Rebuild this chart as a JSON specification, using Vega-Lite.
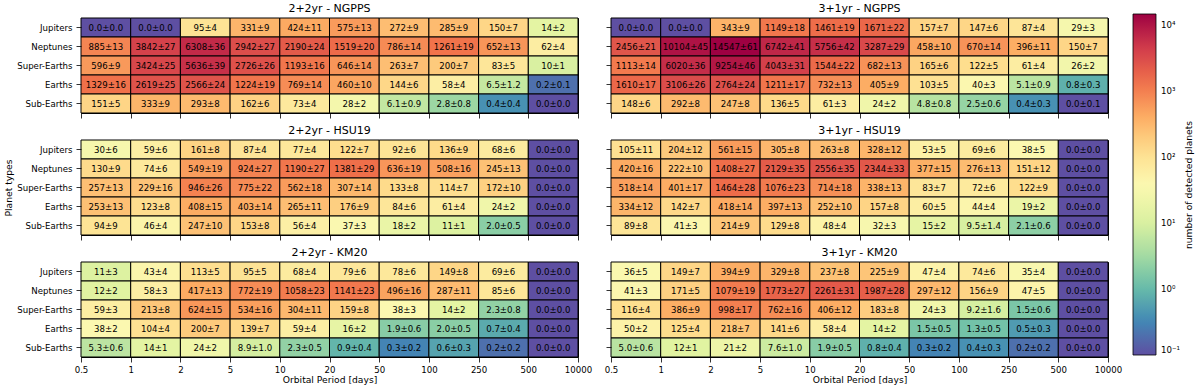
{
"$schema": "https://vega.github.io/schema/vega-lite/v6.json",
"padding": {"left": 4, "top": 2, "right": 0, "bottom": 0},
"data": {"values": [
{"s":"2+2yr","m":"NGPPS","p":"Jupiters","b":0,"v":0,"e":0},
{"s":"2+2yr","m":"NGPPS","p":"Jupiters","b":1,"v":0,"e":0},
{"s":"2+2yr","m":"NGPPS","p":"Jupiters","b":2,"v":95,"e":4},
{"s":"2+2yr","m":"NGPPS","p":"Jupiters","b":3,"v":331,"e":9},
{"s":"2+2yr","m":"NGPPS","p":"Jupiters","b":4,"v":424,"e":11},
{"s":"2+2yr","m":"NGPPS","p":"Jupiters","b":5,"v":575,"e":13},
{"s":"2+2yr","m":"NGPPS","p":"Jupiters","b":6,"v":272,"e":9},
{"s":"2+2yr","m":"NGPPS","p":"Jupiters","b":7,"v":285,"e":9},
{"s":"2+2yr","m":"NGPPS","p":"Jupiters","b":8,"v":150,"e":7},
{"s":"2+2yr","m":"NGPPS","p":"Jupiters","b":9,"v":14,"e":2},
{"s":"2+2yr","m":"NGPPS","p":"Neptunes","b":0,"v":885,"e":13},
{"s":"2+2yr","m":"NGPPS","p":"Neptunes","b":1,"v":3842,"e":27},
{"s":"2+2yr","m":"NGPPS","p":"Neptunes","b":2,"v":6308,"e":36},
{"s":"2+2yr","m":"NGPPS","p":"Neptunes","b":3,"v":2942,"e":27},
{"s":"2+2yr","m":"NGPPS","p":"Neptunes","b":4,"v":2190,"e":24},
{"s":"2+2yr","m":"NGPPS","p":"Neptunes","b":5,"v":1519,"e":20},
{"s":"2+2yr","m":"NGPPS","p":"Neptunes","b":6,"v":786,"e":14},
{"s":"2+2yr","m":"NGPPS","p":"Neptunes","b":7,"v":1261,"e":19},
{"s":"2+2yr","m":"NGPPS","p":"Neptunes","b":8,"v":652,"e":13},
{"s":"2+2yr","m":"NGPPS","p":"Neptunes","b":9,"v":62,"e":4},
{"s":"2+2yr","m":"NGPPS","p":"Super-Earths","b":0,"v":596,"e":9},
{"s":"2+2yr","m":"NGPPS","p":"Super-Earths","b":1,"v":3424,"e":25},
{"s":"2+2yr","m":"NGPPS","p":"Super-Earths","b":2,"v":5636,"e":39},
{"s":"2+2yr","m":"NGPPS","p":"Super-Earths","b":3,"v":2726,"e":26},
{"s":"2+2yr","m":"NGPPS","p":"Super-Earths","b":4,"v":1193,"e":16},
{"s":"2+2yr","m":"NGPPS","p":"Super-Earths","b":5,"v":646,"e":14},
{"s":"2+2yr","m":"NGPPS","p":"Super-Earths","b":6,"v":263,"e":7},
{"s":"2+2yr","m":"NGPPS","p":"Super-Earths","b":7,"v":200,"e":7},
{"s":"2+2yr","m":"NGPPS","p":"Super-Earths","b":8,"v":83,"e":5},
{"s":"2+2yr","m":"NGPPS","p":"Super-Earths","b":9,"v":10,"e":1},
{"s":"2+2yr","m":"NGPPS","p":"Earths","b":0,"v":1329,"e":16},
{"s":"2+2yr","m":"NGPPS","p":"Earths","b":1,"v":2619,"e":25},
{"s":"2+2yr","m":"NGPPS","p":"Earths","b":2,"v":2566,"e":24},
{"s":"2+2yr","m":"NGPPS","p":"Earths","b":3,"v":1224,"e":19},
{"s":"2+2yr","m":"NGPPS","p":"Earths","b":4,"v":769,"e":14},
{"s":"2+2yr","m":"NGPPS","p":"Earths","b":5,"v":460,"e":10},
{"s":"2+2yr","m":"NGPPS","p":"Earths","b":6,"v":144,"e":6},
{"s":"2+2yr","m":"NGPPS","p":"Earths","b":7,"v":58,"e":4},
{"s":"2+2yr","m":"NGPPS","p":"Earths","b":8,"v":6.5,"e":1.2},
{"s":"2+2yr","m":"NGPPS","p":"Earths","b":9,"v":0.2,"e":0.1},
{"s":"2+2yr","m":"NGPPS","p":"Sub-Earths","b":0,"v":151,"e":5},
{"s":"2+2yr","m":"NGPPS","p":"Sub-Earths","b":1,"v":333,"e":9},
{"s":"2+2yr","m":"NGPPS","p":"Sub-Earths","b":2,"v":293,"e":8},
{"s":"2+2yr","m":"NGPPS","p":"Sub-Earths","b":3,"v":162,"e":6},
{"s":"2+2yr","m":"NGPPS","p":"Sub-Earths","b":4,"v":73,"e":4},
{"s":"2+2yr","m":"NGPPS","p":"Sub-Earths","b":5,"v":28,"e":2},
{"s":"2+2yr","m":"NGPPS","p":"Sub-Earths","b":6,"v":6.1,"e":0.9},
{"s":"2+2yr","m":"NGPPS","p":"Sub-Earths","b":7,"v":2.8,"e":0.8},
{"s":"2+2yr","m":"NGPPS","p":"Sub-Earths","b":8,"v":0.4,"e":0.4},
{"s":"2+2yr","m":"NGPPS","p":"Sub-Earths","b":9,"v":0,"e":0},
{"s":"3+1yr","m":"NGPPS","p":"Jupiters","b":0,"v":0,"e":0},
{"s":"3+1yr","m":"NGPPS","p":"Jupiters","b":1,"v":0,"e":0},
{"s":"3+1yr","m":"NGPPS","p":"Jupiters","b":2,"v":343,"e":9},
{"s":"3+1yr","m":"NGPPS","p":"Jupiters","b":3,"v":1149,"e":18},
{"s":"3+1yr","m":"NGPPS","p":"Jupiters","b":4,"v":1461,"e":19},
{"s":"3+1yr","m":"NGPPS","p":"Jupiters","b":5,"v":1671,"e":22},
{"s":"3+1yr","m":"NGPPS","p":"Jupiters","b":6,"v":157,"e":7},
{"s":"3+1yr","m":"NGPPS","p":"Jupiters","b":7,"v":147,"e":6},
{"s":"3+1yr","m":"NGPPS","p":"Jupiters","b":8,"v":87,"e":4},
{"s":"3+1yr","m":"NGPPS","p":"Jupiters","b":9,"v":29,"e":3},
{"s":"3+1yr","m":"NGPPS","p":"Neptunes","b":0,"v":2456,"e":21},
{"s":"3+1yr","m":"NGPPS","p":"Neptunes","b":1,"v":10104,"e":45},
{"s":"3+1yr","m":"NGPPS","p":"Neptunes","b":2,"v":14547,"e":61},
{"s":"3+1yr","m":"NGPPS","p":"Neptunes","b":3,"v":6742,"e":41},
{"s":"3+1yr","m":"NGPPS","p":"Neptunes","b":4,"v":5756,"e":42},
{"s":"3+1yr","m":"NGPPS","p":"Neptunes","b":5,"v":3287,"e":29},
{"s":"3+1yr","m":"NGPPS","p":"Neptunes","b":6,"v":458,"e":10},
{"s":"3+1yr","m":"NGPPS","p":"Neptunes","b":7,"v":670,"e":14},
{"s":"3+1yr","m":"NGPPS","p":"Neptunes","b":8,"v":396,"e":11},
{"s":"3+1yr","m":"NGPPS","p":"Neptunes","b":9,"v":150,"e":7},
{"s":"3+1yr","m":"NGPPS","p":"Super-Earths","b":0,"v":1113,"e":14},
{"s":"3+1yr","m":"NGPPS","p":"Super-Earths","b":1,"v":6020,"e":36},
{"s":"3+1yr","m":"NGPPS","p":"Super-Earths","b":2,"v":9254,"e":46},
{"s":"3+1yr","m":"NGPPS","p":"Super-Earths","b":3,"v":4043,"e":31},
{"s":"3+1yr","m":"NGPPS","p":"Super-Earths","b":4,"v":1544,"e":22},
{"s":"3+1yr","m":"NGPPS","p":"Super-Earths","b":5,"v":682,"e":13},
{"s":"3+1yr","m":"NGPPS","p":"Super-Earths","b":6,"v":165,"e":6},
{"s":"3+1yr","m":"NGPPS","p":"Super-Earths","b":7,"v":122,"e":5},
{"s":"3+1yr","m":"NGPPS","p":"Super-Earths","b":8,"v":61,"e":4},
{"s":"3+1yr","m":"NGPPS","p":"Super-Earths","b":9,"v":26,"e":2},
{"s":"3+1yr","m":"NGPPS","p":"Earths","b":0,"v":1610,"e":17},
{"s":"3+1yr","m":"NGPPS","p":"Earths","b":1,"v":3106,"e":26},
{"s":"3+1yr","m":"NGPPS","p":"Earths","b":2,"v":2764,"e":24},
{"s":"3+1yr","m":"NGPPS","p":"Earths","b":3,"v":1211,"e":17},
{"s":"3+1yr","m":"NGPPS","p":"Earths","b":4,"v":732,"e":13},
{"s":"3+1yr","m":"NGPPS","p":"Earths","b":5,"v":405,"e":9},
{"s":"3+1yr","m":"NGPPS","p":"Earths","b":6,"v":103,"e":5},
{"s":"3+1yr","m":"NGPPS","p":"Earths","b":7,"v":40,"e":3},
{"s":"3+1yr","m":"NGPPS","p":"Earths","b":8,"v":5.1,"e":0.9},
{"s":"3+1yr","m":"NGPPS","p":"Earths","b":9,"v":0.8,"e":0.3},
{"s":"3+1yr","m":"NGPPS","p":"Sub-Earths","b":0,"v":148,"e":6},
{"s":"3+1yr","m":"NGPPS","p":"Sub-Earths","b":1,"v":292,"e":8},
{"s":"3+1yr","m":"NGPPS","p":"Sub-Earths","b":2,"v":247,"e":8},
{"s":"3+1yr","m":"NGPPS","p":"Sub-Earths","b":3,"v":136,"e":5},
{"s":"3+1yr","m":"NGPPS","p":"Sub-Earths","b":4,"v":61,"e":3},
{"s":"3+1yr","m":"NGPPS","p":"Sub-Earths","b":5,"v":24,"e":2},
{"s":"3+1yr","m":"NGPPS","p":"Sub-Earths","b":6,"v":4.8,"e":0.8},
{"s":"3+1yr","m":"NGPPS","p":"Sub-Earths","b":7,"v":2.5,"e":0.6},
{"s":"3+1yr","m":"NGPPS","p":"Sub-Earths","b":8,"v":0.4,"e":0.3},
{"s":"3+1yr","m":"NGPPS","p":"Sub-Earths","b":9,"v":0,"e":0.1},
{"s":"2+2yr","m":"HSU19","p":"Jupiters","b":0,"v":30,"e":6},
{"s":"2+2yr","m":"HSU19","p":"Jupiters","b":1,"v":59,"e":6},
{"s":"2+2yr","m":"HSU19","p":"Jupiters","b":2,"v":161,"e":8},
{"s":"2+2yr","m":"HSU19","p":"Jupiters","b":3,"v":87,"e":4},
{"s":"2+2yr","m":"HSU19","p":"Jupiters","b":4,"v":77,"e":4},
{"s":"2+2yr","m":"HSU19","p":"Jupiters","b":5,"v":122,"e":7},
{"s":"2+2yr","m":"HSU19","p":"Jupiters","b":6,"v":92,"e":6},
{"s":"2+2yr","m":"HSU19","p":"Jupiters","b":7,"v":136,"e":9},
{"s":"2+2yr","m":"HSU19","p":"Jupiters","b":8,"v":68,"e":6},
{"s":"2+2yr","m":"HSU19","p":"Jupiters","b":9,"v":0,"e":0},
{"s":"2+2yr","m":"HSU19","p":"Neptunes","b":0,"v":130,"e":9},
{"s":"2+2yr","m":"HSU19","p":"Neptunes","b":1,"v":74,"e":6},
{"s":"2+2yr","m":"HSU19","p":"Neptunes","b":2,"v":549,"e":19},
{"s":"2+2yr","m":"HSU19","p":"Neptunes","b":3,"v":924,"e":27},
{"s":"2+2yr","m":"HSU19","p":"Neptunes","b":4,"v":1190,"e":27},
{"s":"2+2yr","m":"HSU19","p":"Neptunes","b":5,"v":1381,"e":29},
{"s":"2+2yr","m":"HSU19","p":"Neptunes","b":6,"v":636,"e":19},
{"s":"2+2yr","m":"HSU19","p":"Neptunes","b":7,"v":508,"e":16},
{"s":"2+2yr","m":"HSU19","p":"Neptunes","b":8,"v":245,"e":13},
{"s":"2+2yr","m":"HSU19","p":"Neptunes","b":9,"v":0,"e":0},
{"s":"2+2yr","m":"HSU19","p":"Super-Earths","b":0,"v":257,"e":13},
{"s":"2+2yr","m":"HSU19","p":"Super-Earths","b":1,"v":229,"e":16},
{"s":"2+2yr","m":"HSU19","p":"Super-Earths","b":2,"v":946,"e":26},
{"s":"2+2yr","m":"HSU19","p":"Super-Earths","b":3,"v":775,"e":22},
{"s":"2+2yr","m":"HSU19","p":"Super-Earths","b":4,"v":562,"e":18},
{"s":"2+2yr","m":"HSU19","p":"Super-Earths","b":5,"v":307,"e":14},
{"s":"2+2yr","m":"HSU19","p":"Super-Earths","b":6,"v":133,"e":8},
{"s":"2+2yr","m":"HSU19","p":"Super-Earths","b":7,"v":114,"e":7},
{"s":"2+2yr","m":"HSU19","p":"Super-Earths","b":8,"v":172,"e":10},
{"s":"2+2yr","m":"HSU19","p":"Super-Earths","b":9,"v":0,"e":0},
{"s":"2+2yr","m":"HSU19","p":"Earths","b":0,"v":253,"e":13},
{"s":"2+2yr","m":"HSU19","p":"Earths","b":1,"v":123,"e":8},
{"s":"2+2yr","m":"HSU19","p":"Earths","b":2,"v":408,"e":15},
{"s":"2+2yr","m":"HSU19","p":"Earths","b":3,"v":403,"e":14},
{"s":"2+2yr","m":"HSU19","p":"Earths","b":4,"v":265,"e":11},
{"s":"2+2yr","m":"HSU19","p":"Earths","b":5,"v":176,"e":9},
{"s":"2+2yr","m":"HSU19","p":"Earths","b":6,"v":84,"e":6},
{"s":"2+2yr","m":"HSU19","p":"Earths","b":7,"v":61,"e":4},
{"s":"2+2yr","m":"HSU19","p":"Earths","b":8,"v":24,"e":2},
{"s":"2+2yr","m":"HSU19","p":"Earths","b":9,"v":0,"e":0},
{"s":"2+2yr","m":"HSU19","p":"Sub-Earths","b":0,"v":94,"e":9},
{"s":"2+2yr","m":"HSU19","p":"Sub-Earths","b":1,"v":46,"e":4},
{"s":"2+2yr","m":"HSU19","p":"Sub-Earths","b":2,"v":247,"e":10},
{"s":"2+2yr","m":"HSU19","p":"Sub-Earths","b":3,"v":153,"e":8},
{"s":"2+2yr","m":"HSU19","p":"Sub-Earths","b":4,"v":56,"e":4},
{"s":"2+2yr","m":"HSU19","p":"Sub-Earths","b":5,"v":37,"e":3},
{"s":"2+2yr","m":"HSU19","p":"Sub-Earths","b":6,"v":18,"e":2},
{"s":"2+2yr","m":"HSU19","p":"Sub-Earths","b":7,"v":11,"e":1},
{"s":"2+2yr","m":"HSU19","p":"Sub-Earths","b":8,"v":2.0,"e":0.5},
{"s":"2+2yr","m":"HSU19","p":"Sub-Earths","b":9,"v":0,"e":0},
{"s":"3+1yr","m":"HSU19","p":"Jupiters","b":0,"v":105,"e":11},
{"s":"3+1yr","m":"HSU19","p":"Jupiters","b":1,"v":204,"e":12},
{"s":"3+1yr","m":"HSU19","p":"Jupiters","b":2,"v":561,"e":15},
{"s":"3+1yr","m":"HSU19","p":"Jupiters","b":3,"v":305,"e":8},
{"s":"3+1yr","m":"HSU19","p":"Jupiters","b":4,"v":263,"e":8},
{"s":"3+1yr","m":"HSU19","p":"Jupiters","b":5,"v":328,"e":12},
{"s":"3+1yr","m":"HSU19","p":"Jupiters","b":6,"v":53,"e":5},
{"s":"3+1yr","m":"HSU19","p":"Jupiters","b":7,"v":69,"e":6},
{"s":"3+1yr","m":"HSU19","p":"Jupiters","b":8,"v":38,"e":5},
{"s":"3+1yr","m":"HSU19","p":"Jupiters","b":9,"v":0,"e":0},
{"s":"3+1yr","m":"HSU19","p":"Neptunes","b":0,"v":420,"e":16},
{"s":"3+1yr","m":"HSU19","p":"Neptunes","b":1,"v":222,"e":10},
{"s":"3+1yr","m":"HSU19","p":"Neptunes","b":2,"v":1408,"e":27},
{"s":"3+1yr","m":"HSU19","p":"Neptunes","b":3,"v":2129,"e":35},
{"s":"3+1yr","m":"HSU19","p":"Neptunes","b":4,"v":2556,"e":35},
{"s":"3+1yr","m":"HSU19","p":"Neptunes","b":5,"v":2344,"e":33},
{"s":"3+1yr","m":"HSU19","p":"Neptunes","b":6,"v":377,"e":15},
{"s":"3+1yr","m":"HSU19","p":"Neptunes","b":7,"v":276,"e":13},
{"s":"3+1yr","m":"HSU19","p":"Neptunes","b":8,"v":151,"e":12},
{"s":"3+1yr","m":"HSU19","p":"Neptunes","b":9,"v":0,"e":0},
{"s":"3+1yr","m":"HSU19","p":"Super-Earths","b":0,"v":518,"e":14},
{"s":"3+1yr","m":"HSU19","p":"Super-Earths","b":1,"v":401,"e":17},
{"s":"3+1yr","m":"HSU19","p":"Super-Earths","b":2,"v":1464,"e":28},
{"s":"3+1yr","m":"HSU19","p":"Super-Earths","b":3,"v":1076,"e":23},
{"s":"3+1yr","m":"HSU19","p":"Super-Earths","b":4,"v":714,"e":18},
{"s":"3+1yr","m":"HSU19","p":"Super-Earths","b":5,"v":338,"e":13},
{"s":"3+1yr","m":"HSU19","p":"Super-Earths","b":6,"v":83,"e":7},
{"s":"3+1yr","m":"HSU19","p":"Super-Earths","b":7,"v":72,"e":6},
{"s":"3+1yr","m":"HSU19","p":"Super-Earths","b":8,"v":122,"e":9},
{"s":"3+1yr","m":"HSU19","p":"Super-Earths","b":9,"v":0,"e":0},
{"s":"3+1yr","m":"HSU19","p":"Earths","b":0,"v":334,"e":12},
{"s":"3+1yr","m":"HSU19","p":"Earths","b":1,"v":142,"e":7},
{"s":"3+1yr","m":"HSU19","p":"Earths","b":2,"v":418,"e":14},
{"s":"3+1yr","m":"HSU19","p":"Earths","b":3,"v":397,"e":13},
{"s":"3+1yr","m":"HSU19","p":"Earths","b":4,"v":252,"e":10},
{"s":"3+1yr","m":"HSU19","p":"Earths","b":5,"v":157,"e":8},
{"s":"3+1yr","m":"HSU19","p":"Earths","b":6,"v":60,"e":5},
{"s":"3+1yr","m":"HSU19","p":"Earths","b":7,"v":44,"e":4},
{"s":"3+1yr","m":"HSU19","p":"Earths","b":8,"v":19,"e":2},
{"s":"3+1yr","m":"HSU19","p":"Earths","b":9,"v":0,"e":0},
{"s":"3+1yr","m":"HSU19","p":"Sub-Earths","b":0,"v":89,"e":8},
{"s":"3+1yr","m":"HSU19","p":"Sub-Earths","b":1,"v":41,"e":3},
{"s":"3+1yr","m":"HSU19","p":"Sub-Earths","b":2,"v":214,"e":9},
{"s":"3+1yr","m":"HSU19","p":"Sub-Earths","b":3,"v":129,"e":8},
{"s":"3+1yr","m":"HSU19","p":"Sub-Earths","b":4,"v":48,"e":4},
{"s":"3+1yr","m":"HSU19","p":"Sub-Earths","b":5,"v":32,"e":3},
{"s":"3+1yr","m":"HSU19","p":"Sub-Earths","b":6,"v":15,"e":2},
{"s":"3+1yr","m":"HSU19","p":"Sub-Earths","b":7,"v":9.5,"e":1.4},
{"s":"3+1yr","m":"HSU19","p":"Sub-Earths","b":8,"v":2.1,"e":0.6},
{"s":"3+1yr","m":"HSU19","p":"Sub-Earths","b":9,"v":0,"e":0},
{"s":"2+2yr","m":"KM20","p":"Jupiters","b":0,"v":11,"e":3},
{"s":"2+2yr","m":"KM20","p":"Jupiters","b":1,"v":43,"e":4},
{"s":"2+2yr","m":"KM20","p":"Jupiters","b":2,"v":113,"e":5},
{"s":"2+2yr","m":"KM20","p":"Jupiters","b":3,"v":95,"e":5},
{"s":"2+2yr","m":"KM20","p":"Jupiters","b":4,"v":68,"e":4},
{"s":"2+2yr","m":"KM20","p":"Jupiters","b":5,"v":79,"e":6},
{"s":"2+2yr","m":"KM20","p":"Jupiters","b":6,"v":78,"e":6},
{"s":"2+2yr","m":"KM20","p":"Jupiters","b":7,"v":149,"e":8},
{"s":"2+2yr","m":"KM20","p":"Jupiters","b":8,"v":69,"e":6},
{"s":"2+2yr","m":"KM20","p":"Jupiters","b":9,"v":0,"e":0},
{"s":"2+2yr","m":"KM20","p":"Neptunes","b":0,"v":12,"e":2},
{"s":"2+2yr","m":"KM20","p":"Neptunes","b":1,"v":58,"e":3},
{"s":"2+2yr","m":"KM20","p":"Neptunes","b":2,"v":417,"e":13},
{"s":"2+2yr","m":"KM20","p":"Neptunes","b":3,"v":772,"e":19},
{"s":"2+2yr","m":"KM20","p":"Neptunes","b":4,"v":1058,"e":23},
{"s":"2+2yr","m":"KM20","p":"Neptunes","b":5,"v":1141,"e":23},
{"s":"2+2yr","m":"KM20","p":"Neptunes","b":6,"v":496,"e":16},
{"s":"2+2yr","m":"KM20","p":"Neptunes","b":7,"v":287,"e":11},
{"s":"2+2yr","m":"KM20","p":"Neptunes","b":8,"v":85,"e":6},
{"s":"2+2yr","m":"KM20","p":"Neptunes","b":9,"v":0,"e":0},
{"s":"2+2yr","m":"KM20","p":"Super-Earths","b":0,"v":59,"e":3},
{"s":"2+2yr","m":"KM20","p":"Super-Earths","b":1,"v":213,"e":8},
{"s":"2+2yr","m":"KM20","p":"Super-Earths","b":2,"v":624,"e":15},
{"s":"2+2yr","m":"KM20","p":"Super-Earths","b":3,"v":534,"e":16},
{"s":"2+2yr","m":"KM20","p":"Super-Earths","b":4,"v":304,"e":11},
{"s":"2+2yr","m":"KM20","p":"Super-Earths","b":5,"v":159,"e":8},
{"s":"2+2yr","m":"KM20","p":"Super-Earths","b":6,"v":38,"e":3},
{"s":"2+2yr","m":"KM20","p":"Super-Earths","b":7,"v":14,"e":2},
{"s":"2+2yr","m":"KM20","p":"Super-Earths","b":8,"v":2.3,"e":0.8},
{"s":"2+2yr","m":"KM20","p":"Super-Earths","b":9,"v":0,"e":0},
{"s":"2+2yr","m":"KM20","p":"Earths","b":0,"v":38,"e":2},
{"s":"2+2yr","m":"KM20","p":"Earths","b":1,"v":104,"e":4},
{"s":"2+2yr","m":"KM20","p":"Earths","b":2,"v":200,"e":7},
{"s":"2+2yr","m":"KM20","p":"Earths","b":3,"v":139,"e":7},
{"s":"2+2yr","m":"KM20","p":"Earths","b":4,"v":59,"e":4},
{"s":"2+2yr","m":"KM20","p":"Earths","b":5,"v":16,"e":2},
{"s":"2+2yr","m":"KM20","p":"Earths","b":6,"v":1.9,"e":0.6},
{"s":"2+2yr","m":"KM20","p":"Earths","b":7,"v":2.0,"e":0.5},
{"s":"2+2yr","m":"KM20","p":"Earths","b":8,"v":0.7,"e":0.4},
{"s":"2+2yr","m":"KM20","p":"Earths","b":9,"v":0,"e":0},
{"s":"2+2yr","m":"KM20","p":"Sub-Earths","b":0,"v":5.3,"e":0.6},
{"s":"2+2yr","m":"KM20","p":"Sub-Earths","b":1,"v":14,"e":1},
{"s":"2+2yr","m":"KM20","p":"Sub-Earths","b":2,"v":24,"e":2},
{"s":"2+2yr","m":"KM20","p":"Sub-Earths","b":3,"v":8.9,"e":1.0},
{"s":"2+2yr","m":"KM20","p":"Sub-Earths","b":4,"v":2.3,"e":0.5},
{"s":"2+2yr","m":"KM20","p":"Sub-Earths","b":5,"v":0.9,"e":0.4},
{"s":"2+2yr","m":"KM20","p":"Sub-Earths","b":6,"v":0.3,"e":0.2},
{"s":"2+2yr","m":"KM20","p":"Sub-Earths","b":7,"v":0.6,"e":0.3},
{"s":"2+2yr","m":"KM20","p":"Sub-Earths","b":8,"v":0.2,"e":0.2},
{"s":"2+2yr","m":"KM20","p":"Sub-Earths","b":9,"v":0,"e":0},
{"s":"3+1yr","m":"KM20","p":"Jupiters","b":0,"v":36,"e":5},
{"s":"3+1yr","m":"KM20","p":"Jupiters","b":1,"v":149,"e":7},
{"s":"3+1yr","m":"KM20","p":"Jupiters","b":2,"v":394,"e":9},
{"s":"3+1yr","m":"KM20","p":"Jupiters","b":3,"v":329,"e":8},
{"s":"3+1yr","m":"KM20","p":"Jupiters","b":4,"v":237,"e":8},
{"s":"3+1yr","m":"KM20","p":"Jupiters","b":5,"v":225,"e":9},
{"s":"3+1yr","m":"KM20","p":"Jupiters","b":6,"v":47,"e":4},
{"s":"3+1yr","m":"KM20","p":"Jupiters","b":7,"v":74,"e":6},
{"s":"3+1yr","m":"KM20","p":"Jupiters","b":8,"v":35,"e":4},
{"s":"3+1yr","m":"KM20","p":"Jupiters","b":9,"v":0,"e":0},
{"s":"3+1yr","m":"KM20","p":"Neptunes","b":0,"v":41,"e":3},
{"s":"3+1yr","m":"KM20","p":"Neptunes","b":1,"v":171,"e":5},
{"s":"3+1yr","m":"KM20","p":"Neptunes","b":2,"v":1079,"e":19},
{"s":"3+1yr","m":"KM20","p":"Neptunes","b":3,"v":1773,"e":27},
{"s":"3+1yr","m":"KM20","p":"Neptunes","b":4,"v":2261,"e":31},
{"s":"3+1yr","m":"KM20","p":"Neptunes","b":5,"v":1987,"e":28},
{"s":"3+1yr","m":"KM20","p":"Neptunes","b":6,"v":297,"e":12},
{"s":"3+1yr","m":"KM20","p":"Neptunes","b":7,"v":156,"e":9},
{"s":"3+1yr","m":"KM20","p":"Neptunes","b":8,"v":47,"e":5},
{"s":"3+1yr","m":"KM20","p":"Neptunes","b":9,"v":0,"e":0},
{"s":"3+1yr","m":"KM20","p":"Super-Earths","b":0,"v":116,"e":4},
{"s":"3+1yr","m":"KM20","p":"Super-Earths","b":1,"v":386,"e":9},
{"s":"3+1yr","m":"KM20","p":"Super-Earths","b":2,"v":998,"e":17},
{"s":"3+1yr","m":"KM20","p":"Super-Earths","b":3,"v":762,"e":16},
{"s":"3+1yr","m":"KM20","p":"Super-Earths","b":4,"v":406,"e":12},
{"s":"3+1yr","m":"KM20","p":"Super-Earths","b":5,"v":183,"e":8},
{"s":"3+1yr","m":"KM20","p":"Super-Earths","b":6,"v":24,"e":3},
{"s":"3+1yr","m":"KM20","p":"Super-Earths","b":7,"v":9.2,"e":1.6},
{"s":"3+1yr","m":"KM20","p":"Super-Earths","b":8,"v":1.5,"e":0.6},
{"s":"3+1yr","m":"KM20","p":"Super-Earths","b":9,"v":0,"e":0},
{"s":"3+1yr","m":"KM20","p":"Earths","b":0,"v":50,"e":2},
{"s":"3+1yr","m":"KM20","p":"Earths","b":1,"v":125,"e":4},
{"s":"3+1yr","m":"KM20","p":"Earths","b":2,"v":218,"e":7},
{"s":"3+1yr","m":"KM20","p":"Earths","b":3,"v":141,"e":6},
{"s":"3+1yr","m":"KM20","p":"Earths","b":4,"v":58,"e":4},
{"s":"3+1yr","m":"KM20","p":"Earths","b":5,"v":14,"e":2},
{"s":"3+1yr","m":"KM20","p":"Earths","b":6,"v":1.5,"e":0.5},
{"s":"3+1yr","m":"KM20","p":"Earths","b":7,"v":1.3,"e":0.5},
{"s":"3+1yr","m":"KM20","p":"Earths","b":8,"v":0.5,"e":0.3},
{"s":"3+1yr","m":"KM20","p":"Earths","b":9,"v":0,"e":0},
{"s":"3+1yr","m":"KM20","p":"Sub-Earths","b":0,"v":5.0,"e":0.6},
{"s":"3+1yr","m":"KM20","p":"Sub-Earths","b":1,"v":12,"e":1},
{"s":"3+1yr","m":"KM20","p":"Sub-Earths","b":2,"v":21,"e":2},
{"s":"3+1yr","m":"KM20","p":"Sub-Earths","b":3,"v":7.6,"e":1.0},
{"s":"3+1yr","m":"KM20","p":"Sub-Earths","b":4,"v":1.9,"e":0.5},
{"s":"3+1yr","m":"KM20","p":"Sub-Earths","b":5,"v":0.8,"e":0.4},
{"s":"3+1yr","m":"KM20","p":"Sub-Earths","b":6,"v":0.3,"e":0.2},
{"s":"3+1yr","m":"KM20","p":"Sub-Earths","b":7,"v":0.4,"e":0.3},
{"s":"3+1yr","m":"KM20","p":"Sub-Earths","b":8,"v":0.2,"e":0.2},
{"s":"3+1yr","m":"KM20","p":"Sub-Earths","b":9,"v":0,"e":0}
]},
"transform": [
{"calculate": "max(datum.v, 0.1)", "as": "c"},
{"calculate": "datum.b + 1", "as": "b1"},
{"calculate": "datum.b + 0.5", "as": "bm"},
{"calculate": "datum.v < 10 ? format(datum.v, '.1f') + '±' + format(datum.e, '.1f') : format(datum.v, 'd') + '±' + format(datum.e, 'd')", "as": "lab"}
],
"columns": 2,
"spacing": {"column": 33, "row": 27},
"bounds": "flush",
"align": "each",
"resolve": {"scale": {"color": "shared"}},
"concat": [
{"title": "2+2yr - NGPPS", "width": 497, "height": 95,
 "transform": [{"filter": "datum.s === '2+2yr' && datum.m === 'NGPPS'"}],
 "encoding": {"y": {"field": "p", "type": "ordinal", "sort": ["Jupiters","Neptunes","Super-Earths","Earths","Sub-Earths"], "scale": {"paddingInner": 0, "paddingOuter": 0}, "axis": {"title": null, "labels": true}}},
 "layer": [
  {"mark": {"type": "rect", "stroke": "black", "strokeWidth": 1},
   "encoding": {"x": {"field": "b", "type": "quantitative", "scale": {"domain": [0, 10], "nice": false, "zero": false}, "axis": {"values": [0,1,2,3,4,5,6,7,8,9,10], "labels": false, "title": null}},
    "x2": {"field": "b1"},
    "color": {"field": "c", "type": "quantitative", "scale": {"type": "log", "domain": [0.1, 14547], "nice": false, "scheme": {"name": "spectral", "extent": [1, 0]}},
     "legend": {"title": "number of detected planets", "orient": "none", "legendX": 1052, "legendY": -4, "direction": "vertical", "gradientLength": 341, "gradientThickness": 23, "gradientStrokeColor": "black", "gradientStrokeWidth": 0.8, "values": [0.1, 1, 10, 100, 1000, 10000], "labelExpr": "'10' + ['⁻¹','⁰','¹','²','³','⁴'][round(log(datum.value)/LN10) + 1]", "titleOrient": "right", "titleAnchor": "middle", "labelFontSize": 8.6, "titleFontSize": 9.2, "titleFontWeight": "normal", "labelOffset": 5, "titlePadding": 5, "encode": {"title": {"update": {"angle": {"value": -90}, "baseline": {"value": "top"}}}}}}}},
  {"mark": {"type": "text", "fontSize": 8.6, "color": "black"},
   "encoding": {"x": {"field": "bm", "type": "quantitative"}, "text": {"field": "lab"}}}
 ]},
{"title": "3+1yr - NGPPS", "width": 497, "height": 95,
 "transform": [{"filter": "datum.s === '3+1yr' && datum.m === 'NGPPS'"}],
 "encoding": {"y": {"field": "p", "type": "ordinal", "sort": ["Jupiters","Neptunes","Super-Earths","Earths","Sub-Earths"], "scale": {"paddingInner": 0, "paddingOuter": 0}, "axis": {"title": null, "labels": false}}},
 "layer": [
  {"mark": {"type": "rect", "stroke": "black", "strokeWidth": 1},
   "encoding": {"x": {"field": "b", "type": "quantitative", "scale": {"domain": [0, 10], "nice": false, "zero": false}, "axis": {"values": [0,1,2,3,4,5,6,7,8,9,10], "labels": false, "title": null}},
    "x2": {"field": "b1"},
    "color": {"field": "c", "type": "quantitative", "scale": {"type": "log", "domain": [0.1, 14547], "nice": false, "scheme": {"name": "spectral", "extent": [1, 0]}},
     "legend": {"title": "number of detected planets", "orient": "none", "legendX": 1052, "legendY": -4, "direction": "vertical", "gradientLength": 341, "gradientThickness": 23, "gradientStrokeColor": "black", "gradientStrokeWidth": 0.8, "values": [0.1, 1, 10, 100, 1000, 10000], "labelExpr": "'10' + ['⁻¹','⁰','¹','²','³','⁴'][round(log(datum.value)/LN10) + 1]", "titleOrient": "right", "titleAnchor": "middle", "labelFontSize": 8.6, "titleFontSize": 9.2, "titleFontWeight": "normal", "labelOffset": 5, "titlePadding": 5, "encode": {"title": {"update": {"angle": {"value": -90}, "baseline": {"value": "top"}}}}}}}},
  {"mark": {"type": "text", "fontSize": 8.6, "color": "black"},
   "encoding": {"x": {"field": "bm", "type": "quantitative"}, "text": {"field": "lab"}}}
 ]},
{"title": "2+2yr - HSU19", "width": 497, "height": 95,
 "transform": [{"filter": "datum.s === '2+2yr' && datum.m === 'HSU19'"}],
 "encoding": {"y": {"field": "p", "type": "ordinal", "sort": ["Jupiters","Neptunes","Super-Earths","Earths","Sub-Earths"], "scale": {"paddingInner": 0, "paddingOuter": 0}, "axis": {"title": "Planet types", "labels": true}}},
 "layer": [
  {"mark": {"type": "rect", "stroke": "black", "strokeWidth": 1},
   "encoding": {"x": {"field": "b", "type": "quantitative", "scale": {"domain": [0, 10], "nice": false, "zero": false}, "axis": {"values": [0,1,2,3,4,5,6,7,8,9,10], "labels": false, "title": null}},
    "x2": {"field": "b1"},
    "color": {"field": "c", "type": "quantitative", "scale": {"type": "log", "domain": [0.1, 14547], "nice": false, "scheme": {"name": "spectral", "extent": [1, 0]}},
     "legend": {"title": "number of detected planets", "orient": "none", "legendX": 1052, "legendY": -4, "direction": "vertical", "gradientLength": 341, "gradientThickness": 23, "gradientStrokeColor": "black", "gradientStrokeWidth": 0.8, "values": [0.1, 1, 10, 100, 1000, 10000], "labelExpr": "'10' + ['⁻¹','⁰','¹','²','³','⁴'][round(log(datum.value)/LN10) + 1]", "titleOrient": "right", "titleAnchor": "middle", "labelFontSize": 8.6, "titleFontSize": 9.2, "titleFontWeight": "normal", "labelOffset": 5, "titlePadding": 5, "encode": {"title": {"update": {"angle": {"value": -90}, "baseline": {"value": "top"}}}}}}}},
  {"mark": {"type": "text", "fontSize": 8.6, "color": "black"},
   "encoding": {"x": {"field": "bm", "type": "quantitative"}, "text": {"field": "lab"}}}
 ]},
{"title": "3+1yr - HSU19", "width": 497, "height": 95,
 "transform": [{"filter": "datum.s === '3+1yr' && datum.m === 'HSU19'"}],
 "encoding": {"y": {"field": "p", "type": "ordinal", "sort": ["Jupiters","Neptunes","Super-Earths","Earths","Sub-Earths"], "scale": {"paddingInner": 0, "paddingOuter": 0}, "axis": {"title": null, "labels": false}}},
 "layer": [
  {"mark": {"type": "rect", "stroke": "black", "strokeWidth": 1},
   "encoding": {"x": {"field": "b", "type": "quantitative", "scale": {"domain": [0, 10], "nice": false, "zero": false}, "axis": {"values": [0,1,2,3,4,5,6,7,8,9,10], "labels": false, "title": null}},
    "x2": {"field": "b1"},
    "color": {"field": "c", "type": "quantitative", "scale": {"type": "log", "domain": [0.1, 14547], "nice": false, "scheme": {"name": "spectral", "extent": [1, 0]}},
     "legend": {"title": "number of detected planets", "orient": "none", "legendX": 1052, "legendY": -4, "direction": "vertical", "gradientLength": 341, "gradientThickness": 23, "gradientStrokeColor": "black", "gradientStrokeWidth": 0.8, "values": [0.1, 1, 10, 100, 1000, 10000], "labelExpr": "'10' + ['⁻¹','⁰','¹','²','³','⁴'][round(log(datum.value)/LN10) + 1]", "titleOrient": "right", "titleAnchor": "middle", "labelFontSize": 8.6, "titleFontSize": 9.2, "titleFontWeight": "normal", "labelOffset": 5, "titlePadding": 5, "encode": {"title": {"update": {"angle": {"value": -90}, "baseline": {"value": "top"}}}}}}}},
  {"mark": {"type": "text", "fontSize": 8.6, "color": "black"},
   "encoding": {"x": {"field": "bm", "type": "quantitative"}, "text": {"field": "lab"}}}
 ]},
{"title": "2+2yr - KM20", "width": 497, "height": 95,
 "transform": [{"filter": "datum.s === '2+2yr' && datum.m === 'KM20'"}],
 "encoding": {"y": {"field": "p", "type": "ordinal", "sort": ["Jupiters","Neptunes","Super-Earths","Earths","Sub-Earths"], "scale": {"paddingInner": 0, "paddingOuter": 0}, "axis": {"title": null, "labels": true}}},
 "layer": [
  {"mark": {"type": "rect", "stroke": "black", "strokeWidth": 1},
   "encoding": {"x": {"field": "b", "type": "quantitative", "scale": {"domain": [0, 10], "nice": false, "zero": false}, "axis": {"values": [0,1,2,3,4,5,6,7,8,9,10], "labels": true, "title": "Orbital Period [days]", "labelExpr": "['0.5','1','2','5','10','20','50','100','250','500','10000'][datum.value]"}},
    "x2": {"field": "b1"},
    "color": {"field": "c", "type": "quantitative", "scale": {"type": "log", "domain": [0.1, 14547], "nice": false, "scheme": {"name": "spectral", "extent": [1, 0]}},
     "legend": {"title": "number of detected planets", "orient": "none", "legendX": 1052, "legendY": -4, "direction": "vertical", "gradientLength": 341, "gradientThickness": 23, "gradientStrokeColor": "black", "gradientStrokeWidth": 0.8, "values": [0.1, 1, 10, 100, 1000, 10000], "labelExpr": "'10' + ['⁻¹','⁰','¹','²','³','⁴'][round(log(datum.value)/LN10) + 1]", "titleOrient": "right", "titleAnchor": "middle", "labelFontSize": 8.6, "titleFontSize": 9.2, "titleFontWeight": "normal", "labelOffset": 5, "titlePadding": 5, "encode": {"title": {"update": {"angle": {"value": -90}, "baseline": {"value": "top"}}}}}}}},
  {"mark": {"type": "text", "fontSize": 8.6, "color": "black"},
   "encoding": {"x": {"field": "bm", "type": "quantitative"}, "text": {"field": "lab"}}}
 ]},
{"title": "3+1yr - KM20", "width": 497, "height": 95,
 "transform": [{"filter": "datum.s === '3+1yr' && datum.m === 'KM20'"}],
 "encoding": {"y": {"field": "p", "type": "ordinal", "sort": ["Jupiters","Neptunes","Super-Earths","Earths","Sub-Earths"], "scale": {"paddingInner": 0, "paddingOuter": 0}, "axis": {"title": null, "labels": false}}},
 "layer": [
  {"mark": {"type": "rect", "stroke": "black", "strokeWidth": 1},
   "encoding": {"x": {"field": "b", "type": "quantitative", "scale": {"domain": [0, 10], "nice": false, "zero": false}, "axis": {"values": [0,1,2,3,4,5,6,7,8,9,10], "labels": true, "title": "Orbital Period [days]", "labelExpr": "['0.5','1','2','5','10','20','50','100','250','500','10000'][datum.value]"}},
    "x2": {"field": "b1"},
    "color": {"field": "c", "type": "quantitative", "scale": {"type": "log", "domain": [0.1, 14547], "nice": false, "scheme": {"name": "spectral", "extent": [1, 0]}},
     "legend": {"title": "number of detected planets", "orient": "none", "legendX": 1052, "legendY": -4, "direction": "vertical", "gradientLength": 341, "gradientThickness": 23, "gradientStrokeColor": "black", "gradientStrokeWidth": 0.8, "values": [0.1, 1, 10, 100, 1000, 10000], "labelExpr": "'10' + ['⁻¹','⁰','¹','²','³','⁴'][round(log(datum.value)/LN10) + 1]", "titleOrient": "right", "titleAnchor": "middle", "labelFontSize": 8.6, "titleFontSize": 9.2, "titleFontWeight": "normal", "labelOffset": 5, "titlePadding": 5, "encode": {"title": {"update": {"angle": {"value": -90}, "baseline": {"value": "top"}}}}}}}},
  {"mark": {"type": "text", "fontSize": 8.6, "color": "black"},
   "encoding": {"x": {"field": "bm", "type": "quantitative"}, "text": {"field": "lab"}}}
 ]}
],
"config": {
 "font": "DejaVu Sans",
 "view": {"stroke": "black", "strokeWidth": 1},
 "title": {"fontSize": 11, "fontWeight": "normal", "color": "black", "offset": 4, "font": "DejaVu Sans"},
 "axis": {"grid": false, "domain": false, "tickColor": "black", "tickSize": 5, "tickWidth": 0.8, "labelFontSize": 8.6, "labelColor": "black", "labelFont": "DejaVu Sans", "labelPadding": 3, "titleFontSize": 9.2, "titleFontWeight": "normal", "titleColor": "black", "titleFont": "DejaVu Sans", "labelFlush": false, "labelOverlap": false, "labelBound": false, "titlePadding": 2},
 "axisY": {"labelPadding": 4, "titlePadding": 3},
 "legend": {"labelColor": "black", "titleColor": "black", "labelFont": "DejaVu Sans", "titleFont": "DejaVu Sans"}
}
}
